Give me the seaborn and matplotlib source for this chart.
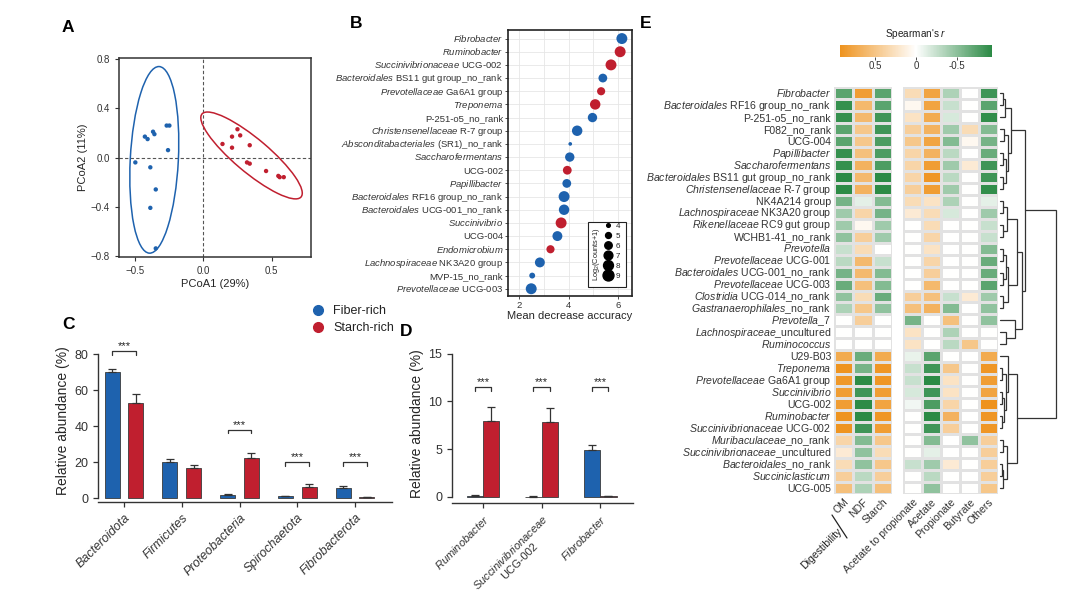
import numpy as np
import pandas as pd
import matplotlib
matplotlib.use('Agg')
import matplotlib.pyplot as plt
import matplotlib.transforms as mtransforms
from matplotlib.patches import Ellipse, Rectangle
from matplotlib.lines import Line2D
from matplotlib.colors import LinearSegmentedColormap, Normalize
from matplotlib.cm import ScalarMappable
import seaborn as sns

# ---------------- data ----------------
# A. PCoA
pcoa1_fiber = [-0.50, -0.43, -0.41, -0.37, -0.36, -0.27, -0.25, -0.26, -0.39, -0.35, -0.39, -0.35]
pcoa2_fiber = [-0.04, 0.17, 0.15, 0.21, 0.19, 0.26, 0.26, 0.06, -0.08, -0.26, -0.41, -0.74]
pcoa1_starch = [0.14, 0.21, 0.25, 0.27, 0.21, 0.34, 0.32, 0.34, 0.46, 0.55, 0.56, 0.59]
pcoa2_starch = [0.11, 0.17, 0.23, 0.18, 0.08, 0.10, -0.04, -0.05, -0.11, -0.15, -0.16, -0.16]

# B. random forest importance
rf_taxa = [r'$\mathit{Fibrobacter}$', r'$\mathit{Ruminobacter}$',
           r'$\mathit{Succinivibrionaceae}$ UCG-002', r'$\mathit{Bacteroidales}$ BS11 gut group_no_rank',
           r'$\mathit{Prevotellaceae}$ Ga6A1 group', r'$\mathit{Treponema}$', 'P-251-o5_no_rank',
           r'$\mathit{Christensenellaceae}$ R-7 group', r'$\mathit{Absconditabacteriales}$ (SR1)_no_rank',
           r'$\mathit{Saccharofermentans}$', 'UCG-002', r'$\mathit{Papillibacter}$',
           r'$\mathit{Bacteroidales}$ RF16 group_no_rank', r'$\mathit{Bacteroidales}$ UCG-001_no_rank',
           r'$\mathit{Succinivibrio}$', 'UCG-004', r'$\mathit{Endomicrobium}$',
           r'$\mathit{Lachnospiraceae}$ NK3A20 group', 'MVP-15_no_rank', r'$\mathit{Prevotellaceae}$ UCG-003']
rf_mda = [6.16, 6.09, 5.72, 5.39, 5.32, 5.08, 4.97, 4.35, 4.07, 4.05,
          3.95, 3.93, 3.82, 3.82, 3.70, 3.55, 3.27, 2.84, 2.53, 2.49]
rf_group = ['Fiber-rich', 'Starch-rich', 'Starch-rich', 'Fiber-rich', 'Starch-rich', 'Starch-rich',
            'Fiber-rich', 'Fiber-rich', 'Fiber-rich', 'Fiber-rich', 'Starch-rich', 'Fiber-rich',
            'Fiber-rich', 'Fiber-rich', 'Starch-rich', 'Fiber-rich', 'Starch-rich', 'Fiber-rich',
            'Fiber-rich', 'Fiber-rich']
rf_log2count = [9, 9, 9, 7, 6.5, 8.5, 7.5, 8.5, 3.7, 7.5, 7, 7, 9, 8.5, 9, 8, 6.5, 8, 5, 9]
size_levels = [4, 5, 6, 7, 8, 9]

# C. phyla
phyla = ['Bacteroidota', 'Firmicutes', 'Proteobacteria', 'Spirochaetota', 'Fibrobacterota']
phyla_fiber_mean = [69.8, 19.8, 1.7, 0.9, 5.4]
phyla_fiber_se = [2.1, 1.9, 0.7, 0.4, 1.1]
phyla_starch_mean = [52.8, 16.7, 22.2, 6.3, 0.4]
phyla_starch_se = [5.0, 1.4, 3.0, 1.5, 0.1]
phyla_sig_y = [81.5, None, 38.0, 20.0, 20.0]

# D. genera
genera = [r'$\mathit{Ruminobacter}$', '$\\mathit{Succinivibrionaceae}$\nUCG-002', r'$\mathit{Fibrobacter}$']
genus_fiber_mean = [0.1, 0.05, 4.95]
genus_fiber_se = [0.1, 0.1, 0.45]
genus_starch_mean = [7.95, 7.8, 0.1]
genus_starch_se = [1.45, 1.5, 0.05]
genus_sig_y = [11.5, 11.5, 11.5]

# E. Spearman correlation heatmap
row_labels = [r'$\mathit{Fibrobacter}$', r'$\mathit{Bacteroidales}$ RF16 group_no_rank', 'P-251-o5_no_rank',
              'F082_no_rank', 'UCG-004', r'$\mathit{Papillibacter}$', r'$\mathit{Saccharofermentans}$',
              r'$\mathit{Bacteroidales}$ BS11 gut group_no_rank', r'$\mathit{Christensenellaceae}$ R-7 group',
              'NK4A214 group', r'$\mathit{Lachnospiraceae}$ NK3A20 group', r'$\mathit{Rikenellaceae}$ RC9 gut group',
              'WCHB1-41_no_rank', r'$\mathit{Prevotella}$', r'$\mathit{Prevotellaceae}$ UCG-001',
              r'$\mathit{Bacteroidales}$ UCG-001_no_rank', r'$\mathit{Prevotellaceae}$ UCG-003',
              r'$\mathit{Clostridia}$ UCG-014_no_rank', r'$\mathit{Gastranaerophilales}$_no_rank',
              r'$\mathit{Prevotella}$_7', r'$\mathit{Lachnospiraceae}$_uncultured', r'$\mathit{Ruminococcus}$',
              'U29-B03', r'$\mathit{Treponema}$', r'$\mathit{Prevotellaceae}$ Ga6A1 group',
              r'$\mathit{Succinivibrio}$', 'UCG-002', r'$\mathit{Ruminobacter}$',
              r'$\mathit{Succinivibrionaceae}$ UCG-002', r'$\mathit{Muribaculaceae}$_no_rank',
              r'$\mathit{Succinivibrionaceae}$_uncultured', r'$\mathit{Bacteroidales}$_no_rank',
              r'$\mathit{Succiniclasticum}$', 'UCG-005']
digest_cols = ['OM', 'NDF', 'Starch']
vfa_cols = ['Acetate to propionate', 'Acetate', 'Propionate', 'Butyrate', 'Others']
corr_om = [-0.72, -0.88, -0.88, -0.72, -0.72, -0.88, -0.88, -0.93, -0.92,
           -0.6, -0.42, -0.42, -0.48, -0.24, -0.3, -0.6, -0.66, -0.48, -0.36, 0, 0, 0,
           0.72, 0.92, 0.88, 0.84, 0.84, 0.92, 0.92, 0.36, 0.18, 0.3, 0.42, 0.54]
corr_ndf = [0.84, 0.6, 0.6, 0.48, 0.48, 0.54, 0.66, 0.6, 0.66,
            -0.12, 0.36, 0.06, 0.42, 0.3, 0.6, 0.6, 0.54, 0.3, 0.48, 0.42, 0, 0,
            -0.66, -0.6, -0.92, -0.84, -0.92, -0.93, -0.84, -0.54, -0.48, -0.48, -0.3, -0.36]
corr_starch = [-0.72, -0.72, -0.84, -0.84, -0.78, -0.78, -0.78, -0.93, -0.92,
               -0.54, -0.6, -0.42, -0.42, 0, -0.24, -0.54, -0.54, -0.66, -0.48, 0, 0, 0,
               0.72, 0.9, 0.9, 0.84, 0.78, 0.9, 0.84, 0.48, 0.3, 0.48, 0.42, 0.54]
corr_ap = [0.3, 0.06, 0.24, 0.42, 0.48, 0.36, 0.36, 0.36, 0.42,
           0.3, 0.18, 0, 0, 0, 0, 0, 0, 0.42, 0.54, -0.6, 0.24, 0.24,
           -0.1, -0.24, -0.24, -0.18, -0.06, 0, 0, 0, 0, -0.24, 0, 0]
corr_acetate = [0.78, 0.78, 0.72, 0.66, 0.78, 0.66, 0.84, 0.9, 0.84,
                0.24, 0.3, 0.3, 0.36, 0.24, 0.36, 0.42, 0.6, 0.54, 0.66, 0, 0, 0,
                -0.72, -0.84, -0.93, -0.84, -0.78, -0.93, -0.84, -0.54, -0.12, -0.42, -0.3, -0.48]
corr_propionate = [-0.36, -0.24, -0.18, -0.42, -0.54, -0.3, -0.42, -0.3, -0.42,
                   -0.36, -0.18, 0, 0, 0, 0, 0, 0, -0.24, -0.54, 0.54, -0.36, -0.3,
                   0, 0.48, 0.24, 0.24, 0.36, 0.66, 0.42, 0, 0, 0.18, 0, 0]
corr_butyrate = [0, 0, 0, 0.3, 0.06, 0, 0.18, 0, 0,
                 0, 0, 0, 0, 0, 0, 0, 0, 0.18, 0, 0, 0, 0.48,
                 0, 0, 0, 0, 0, 0, 0, -0.48, 0, 0, 0, 0]
corr_others = [-0.84, -0.72, -0.9, -0.54, -0.6, -0.66, -0.84, -0.84, -0.9,
               -0.12, -0.42, -0.24, -0.24, -0.54, -0.66, -0.66, -0.72, -0.42, -0.48, -0.48, 0, 0,
               0.72, 0.9, 0.84, 0.78, 0.93, 0.9, 0.9, 0.42, 0.42, 0.42, 0.42, 0.48]

# row clustering tree: (left, right, height), leaves = row index
tree_a = (((0, 1, 0.06), 2, 0.09), ((3, 4, 0.07), ((5, 6, 0.05), (7, 8, 0.05), 0.1), 0.14), 0.19)
tree_b = ((((9, 10, 0.05), (11, 12, 0.05), 0.12),
           (((13, 14, 0.06), (15, 16, 0.05), 0.1), (17, 18, 0.06), 0.14), 0.3),
          (19, (20, 21, 0.1), 0.27), 0.4)
tree_c = ((22, ((23, 24, 0.04), ((25, 26, 0.04), (27, 28, 0.04), 0.07), 0.1), 0.14),
          ((29, 30, 0.06), ((31, 32, 0.04), 33, 0.06), 0.13), 0.31)
row_tree = ((tree_a, tree_b, 0.45), tree_c, 1.0)

# ---------------- style ----------------
BLUE = '#1e62ae'
RED = '#c01f2f'
palette = {'Fiber-rich': BLUE, 'Starch-rich': RED}

sns.set_style('ticks')
plt.rcParams['font.family'] = ['Liberation Sans', 'DejaVu Sans']
plt.rcParams['mathtext.fontset'] = 'custom'
plt.rcParams['mathtext.rm'] = 'Liberation Sans'
plt.rcParams['mathtext.it'] = 'Liberation Sans:italic'
plt.rcParams['axes.edgecolor'] = '#333333'
plt.rcParams['xtick.color'] = '#333333'
plt.rcParams['ytick.color'] = '#333333'
plt.rcParams['text.color'] = '#222222'

W, H = 1080, 597
fig = plt.figure(figsize=(10.8, 5.97), dpi=100)


def px_axes(left, top, right, bottom):
    """axes from pixel box"""
    return fig.add_axes([left / W, 1 - bottom / H, (right - left) / W, (bottom - top) / H])


def panel_label(x, y, s):
    fig.text(x / W, 1 - y / H, s, fontsize=12.5, fontweight='bold', va='center', ha='left', color='black')


def baseline_ylabels(ax, size):
    # mixed mathtext labels: align on the baseline so rows stay even
    # (call after tick_params, which resets the label transforms)
    off = mtransforms.ScaledTranslation(0, -0.36 * size / 72, fig.dpi_scale_trans)
    for lab in ax.get_yticklabels():
        lab.set_verticalalignment('baseline')
        lab.set_transform(lab.get_transform() + off)


# 1. Panel A: PCoA
ax_a = px_axes(119, 58, 311, 257)
pcoa = pd.DataFrame({
    'PCoA1': pcoa1_fiber + pcoa1_starch,
    'PCoA2': pcoa2_fiber + pcoa2_starch,
    'group': ['Fiber-rich'] * len(pcoa1_fiber) + ['Starch-rich'] * len(pcoa1_starch),
})
ax_a.axhline(0, color='#555555', ls=(0, (3, 2)), lw=0.8, zorder=0)
ax_a.axvline(0, color='#555555', ls=(0, (3, 2)), lw=0.8, zorder=0)
sns.scatterplot(data=pcoa, x='PCoA1', y='PCoA2', hue='group', palette=palette,
                s=10, linewidth=0, legend=False, ax=ax_a)
for grp, sub in pcoa.groupby('group'):
    xy = sub[['PCoA1', 'PCoA2']].to_numpy()
    cov = np.cov(xy, rowvar=False)
    vals, vecs = np.linalg.eigh(cov)
    angle = np.degrees(np.arctan2(vecs[1, 1], vecs[0, 1]))
    k = 2.45
    ell = Ellipse(xy.mean(axis=0), 2 * k * np.sqrt(vals[1]), 2 * k * np.sqrt(vals[0]), angle=angle,
                  facecolor='none', edgecolor=palette[grp], lw=1.1)
    ax_a.add_patch(ell)
ax_a.set_xlim(-0.62, 0.79)
ax_a.set_ylim(-0.81, 0.81)
ax_a.set_xticks([-0.5, 0.0, 0.5])
ax_a.set_yticks([-0.8, -0.4, 0.0, 0.4, 0.8])
ax_a.set_xticklabels(['\u22120.5', '0.0', '0.5'])
ax_a.set_yticklabels(['\u22120.8', '\u22120.4', '0.0', '0.4', '0.8'])
ax_a.set_xlabel('PCoA1 (29%)', fontsize=8, labelpad=2)
ax_a.set_ylabel('PCoA2 (11%)', fontsize=8, labelpad=2)
ax_a.tick_params(labelsize=7, length=3, width=0.8)
for sp in ax_a.spines.values():
    sp.set_linewidth(1.1)
panel_label(62, 28, 'A')

# 2. Panel B: random forest
ax_b = px_axes(508, 30, 632, 296)
size_lo, size_hi = 7, 62
rf = pd.DataFrame({'mda': rf_mda, 'rank': np.arange(len(rf_taxa)), 'group': rf_group, 'log2': rf_log2count})
ax_b.set_axisbelow(True)
sns.scatterplot(data=rf, x='mda', y='rank', hue='group', palette=palette, size='log2',
                sizes=(size_lo, size_hi), size_norm=(4, 9), linewidth=0, legend=False, ax=ax_b, zorder=3)
ax_b.set_xlim(1.55, 6.57)
ax_b.set_ylim(19.55, -0.65)
ax_b.set_yticks(np.arange(len(rf_taxa)))
ax_b.set_yticklabels(rf_taxa, fontsize=6.6)
ax_b.set_xticks([2, 4, 6])
ax_b.set_xticks([3, 5], minor=True)
ax_b.grid(True, which='both', color='#e6e6e6', lw=0.6)
ax_b.tick_params(axis='both', labelsize=6.8, length=2, width=0.6, pad=1.5)
ax_b.tick_params(axis='x', which='minor', length=0)
baseline_ylabels(ax_b, 6.6)
ax_b.set_xlabel('Mean decrease accuracy', fontsize=8, labelpad=1)
ax_b.set_ylabel('')
for sp in ax_b.spines.values():
    sp.set_linewidth(1.2)
    sp.set_color('#222222')
# size legend
ax_b.add_patch(Rectangle((0.645, 0.034), 0.307, 0.244, transform=ax_b.transAxes,
                         facecolor='white', edgecolor='#222222', lw=0.8, zorder=4))
size_handles = [Line2D([], [], marker='o', ls='', color='black',
                       markersize=np.sqrt(size_lo + (v - 4) / 5 * (size_hi - size_lo))) for v in size_levels]
leg_b = ax_b.legend(size_handles, [str(v) for v in size_levels], loc='lower right',
                    bbox_to_anchor=(0.955, 0.035), frameon=False, fontsize=5.8, labelspacing=0.3,
                    handletextpad=0.4, handlelength=1.0, borderpad=0.3)
leg_b.set_zorder(5)
ax_b.text(0.715, 0.156, 'Log$_2$(Counts+1)', transform=ax_b.transAxes, rotation=90,
          fontsize=5.3, ha='center', va='center', zorder=6)
panel_label(350, 24, 'B')

# legend of groups
fig.legend(handles=[Line2D([], [], marker='o', ls='', color=BLUE, markersize=7, label='Fiber-rich'),
                    Line2D([], [], marker='o', ls='', color=RED, markersize=7, label='Starch-rich')],
           loc='upper left', bbox_to_anchor=(298 / W, 1 - 298 / H), frameon=False, fontsize=9,
           handletextpad=0.2, labelspacing=0.35, borderpad=0.1)


def bar_panel(ax, names, fiber_mean, fiber_se, starch_mean, starch_se, sig_y, width, gap, sig_tick):
    n = len(names)
    df = pd.DataFrame({
        'taxon': names * 2,
        'value': fiber_mean + starch_mean,
        'group': ['Fiber-rich'] * n + ['Starch-rich'] * n,
    })
    sns.barplot(data=df, x='taxon', y='value', hue='group', palette=palette, width=width, gap=gap,
                errorbar=None, edgecolor='#3a3a3a', linewidth=0.6, saturation=1, legend=False, ax=ax)
    centers = []
    for cont, se in zip(ax.containers, [fiber_se, starch_se]):
        xs = [b.get_x() + b.get_width() / 2 for b in cont]
        hs = [b.get_height() for b in cont]
        ax.errorbar(xs, hs, yerr=[np.zeros(len(se)), se], fmt='none', ecolor='#333333',
                    elinewidth=0.9, capsize=3, capthick=0.9)
        centers.append(xs)
    # significance brackets
    for i, h in enumerate(sig_y):
        if h is None:
            continue
        x0, x1 = centers[0][i], centers[1][i]
        ax.plot([x0, x0, x1, x1], [h - sig_tick, h, h, h - sig_tick], color='#333333', lw=0.9)
        ax.text((x0 + x1) / 2, h, '***', ha='center', va='bottom', fontsize=8)
    sns.despine(ax=ax)
    ax.set_xlabel('')
    ax.set_ylabel('Relative abundance (%)', fontsize=10, labelpad=3)
    ax.tick_params(labelsize=9, length=3.5, width=0.9)
    for sp in ['left', 'bottom']:
        ax.spines[sp].set_linewidth(1.0)


# 3. Panel C
ax_c = px_axes(98, 340, 392, 502)
bar_panel(ax_c, phyla, phyla_fiber_mean, phyla_fiber_se, phyla_starch_mean, phyla_starch_se,
          phyla_sig_y, width=0.82, gap=0.37, sig_tick=2.0)
ax_c.set_ylim(-2.2, 87.8)
ax_c.set_xlim(-0.45, 4.64)
ax_c.set_yticks([0, 20, 40, 60, 80])
ax_c.spines['left'].set_bounds(0, 80)
ax_c.set_xticks(range(len(phyla)))
ax_c.set_xticklabels(phyla, rotation=45, ha='right', rotation_mode='anchor', style='italic', fontsize=9)
panel_label(62, 325, 'C')

# 4. Panel D
ax_d = px_axes(452, 345, 633, 503)
bar_panel(ax_d, genera, genus_fiber_mean, genus_fiber_se, genus_starch_mean, genus_starch_se,
          genus_sig_y, width=0.56, gap=0.0, sig_tick=0.4)
ax_d.set_ylim(-0.63, 15.9)
ax_d.set_xlim(-0.53, 2.56)
ax_d.set_yticks([0, 5, 10, 15])
ax_d.spines['left'].set_bounds(0, 15)
ax_d.set_xticks(range(len(genera)))
ax_d.set_xticklabels(genera, rotation=45, ha='right', rotation_mode='anchor', fontsize=8.0,
                     multialignment='center')
panel_label(400, 331, 'D')

# 5. Panel E: heatmap + dendrogram
cmap = LinearSegmentedColormap.from_list('og', ['#2b8a45', '#ffffff', '#ee931e'])
vlim = 0.93
digest_df = pd.DataFrame(dict(zip(digest_cols, [corr_om, corr_ndf, corr_starch])), index=row_labels)
vfa_df = pd.DataFrame(dict(zip(vfa_cols, [corr_ap, corr_acetate, corr_propionate, corr_butyrate, corr_others])),
                      index=row_labels)

ax_e1 = px_axes(834, 87, 892, 494)
sns.heatmap(digest_df, ax=ax_e1, cmap=cmap, vmin=-vlim, vmax=vlim, cbar=False,
            linewidths=0.8, linecolor='#e2e2e2', xticklabels=True, yticklabels=True)
ax_e1.set_yticklabels(row_labels, rotation=0, fontsize=7.6)
ax_e1.set_xticklabels(digest_cols, rotation=45, ha='right', rotation_mode='anchor', fontsize=7.6)
ax_e1.tick_params(length=0, pad=2)
baseline_ylabels(ax_e1, 7.6)

ax_e2 = px_axes(903, 87, 998, 494)
sns.heatmap(vfa_df, ax=ax_e2, cmap=cmap, vmin=-vlim, vmax=vlim, cbar=False,
            linewidths=0.8, linecolor='#e2e2e2', xticklabels=True, yticklabels=False)
ax_e2.set_xticklabels(vfa_cols, rotation=45, ha='right', rotation_mode='anchor', fontsize=7.6)
ax_e2.tick_params(length=0, pad=2)
ax_e2.set_ylabel('')

fig.text(840 / W, 1 - 530 / H, 'Digestibility', rotation=45, ha='right', va='center',
         rotation_mode='anchor', fontsize=7.6)
fig.add_artist(Line2D([832 / W, 847 / W], [1 - 515 / H, 1 - 538 / H], color='#222222', lw=0.9))

# dendrogram
ax_t = px_axes(1000, 87, 1056, 494)


def draw_tree(ax, node):
    if isinstance(node, int):
        return node + 0.5, 0.0
    left, right, h = node
    yl, hl = draw_tree(ax, left)
    yr, hr = draw_tree(ax, right)
    ax.plot([hl, h, h, hr], [yl, yl, yr, yr], color='#333333', lw=0.9, clip_on=False,
            solid_joinstyle='miter')
    return (yl + yr) / 2, h


draw_tree(ax_t, row_tree)
ax_t.set_ylim(len(row_labels), 0)
ax_t.set_xlim(0, 1.0)
ax_t.axis('off')

# colorbar
cax = px_axes(840, 45, 992, 57)
sm = ScalarMappable(norm=Normalize(-vlim, vlim), cmap=cmap)
cb = fig.colorbar(sm, cax=cax, orientation='horizontal')
cax.invert_xaxis()
cb.set_ticks([0.5, 0, -0.5])
cb.set_ticklabels(['0.5', '0', '-0.5'])
cb.outline.set_visible(False)
cax.tick_params(labelsize=7, length=2, width=0.6, pad=1)
fig.text(916 / W, 1 - 34 / H, "Spearman's $\\mathit{r}$", ha='center', va='center', fontsize=7.2)
panel_label(640, 24, 'E')

fig.savefig('out.png', dpi=100)
